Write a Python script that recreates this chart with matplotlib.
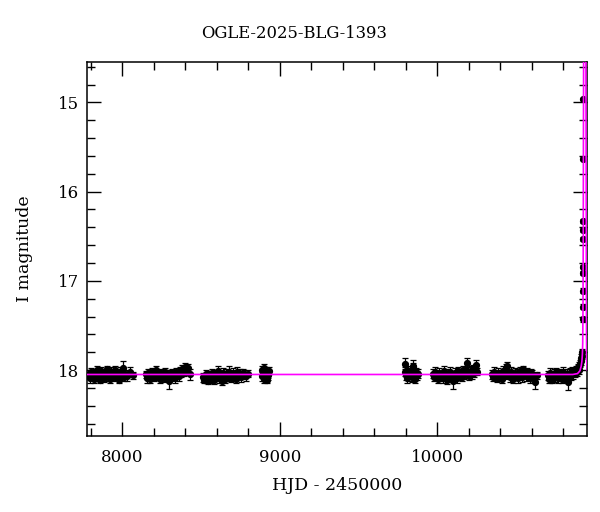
import matplotlib
matplotlib.use("Agg")
import matplotlib.pyplot as plt
from matplotlib.ticker import MultipleLocator

plt.rcParams['font.family'] = ['DejaVu Serif']

# photometry, season by season (HJD-2450000, I mag, error)
t1 = [7790, 7797, 7803, 7812, 7818, 7825, 7833, 7840, 7846, 7851, 7859, 7866, 7874, 7880, 7887, 7893, 7901, 7908,
      7914, 7922, 7929, 7935, 7943, 7950, 7957, 7964, 7970, 7978, 7985, 7992, 8002, 8008, 8016, 8031, 8050, 8066]
m1 = [18.04, 18.09, 18.02, 18.06, 18.10, 18.03, 18.07, 18.00, 18.08, 18.04, 18.11, 18.01, 18.06, 18.03, 18.09, 18.05, 17.99, 18.07,
      18.03, 18.10, 18.02, 18.06, 18.08, 18.04, 18.00, 18.07, 18.05, 18.11, 18.02, 18.06, 17.98, 18.08, 18.04, 18.07, 18.02, 18.06]
e1 = [0.04, 0.05, 0.04, 0.04, 0.05, 0.04, 0.05, 0.04, 0.04, 0.05, 0.04, 0.04, 0.05, 0.04, 0.04, 0.05, 0.04, 0.05,
      0.04, 0.04, 0.05, 0.04, 0.04, 0.05, 0.04, 0.04, 0.06, 0.04, 0.05, 0.04, 0.08, 0.04, 0.04, 0.05, 0.05, 0.04]

t2 = [8148, 8155, 8163, 8170, 8178, 8186, 8193, 8201, 8209, 8216, 8224, 8232, 8240, 8247, 8255, 8262, 8270, 8278,
      8286, 8298, 8303, 8309, 8317, 8325, 8333, 8341, 8349, 8357, 8365, 8373, 8381, 8390, 8398, 8407, 8418, 8432]
m2 = [18.05, 18.09, 18.03, 18.07, 18.10, 18.02, 18.06, 18.08, 18.04, 18.00, 18.07, 18.05, 18.10, 18.03, 18.06, 18.09, 18.02, 18.05,
      18.08, 18.12, 18.04, 18.07, 18.03, 18.06, 18.09, 18.02, 18.05, 18.07, 18.01, 18.04, 17.99, 18.03, 17.97, 18.02, 17.98, 18.05]
e2 = [0.04, 0.05, 0.04, 0.05, 0.04, 0.04, 0.05, 0.04, 0.04, 0.05, 0.04, 0.05, 0.04, 0.04, 0.05, 0.04, 0.04, 0.05,
      0.04, 0.09, 0.04, 0.05, 0.04, 0.04, 0.05, 0.04, 0.04, 0.05, 0.04, 0.04, 0.05, 0.04, 0.05, 0.04, 0.05, 0.06]

t3 = [8515, 8522, 8530, 8537, 8545, 8553, 8560, 8568, 8576, 8583, 8591, 8599, 8606, 8614, 8622, 8630, 8637, 8645,
      8653, 8661, 8668, 8676, 8684, 8692, 8700, 8708, 8716, 8724, 8731, 8739, 8747, 8756, 8765, 8775, 8786, 8798]
m3 = [18.08, 18.11, 18.05, 18.09, 18.12, 18.06, 18.10, 18.03, 18.08, 18.11, 18.04, 18.07, 18.01, 18.09, 18.05, 18.12, 18.03, 18.07,
      18.10, 18.04, 18.08, 18.02, 18.06, 18.09, 18.03, 18.07, 18.05, 18.10, 18.02, 18.06, 18.04, 18.08, 18.03, 18.05, 18.07, 18.04]
e3 = [0.05, 0.04, 0.05, 0.05, 0.04, 0.05, 0.05, 0.04, 0.05, 0.05, 0.04, 0.05, 0.06, 0.05, 0.04, 0.05, 0.05, 0.04,
      0.05, 0.05, 0.04, 0.06, 0.05, 0.04, 0.05, 0.05, 0.04, 0.05, 0.05, 0.04, 0.05, 0.05, 0.04, 0.05, 0.05, 0.04]

t4 = [8886, 8890, 8894, 8898, 8902, 8906, 8910, 8914, 8918, 8922, 8926, 8930]
m4 = [18.00, 18.07, 18.03, 18.10, 17.98, 18.05, 18.08, 18.02, 18.11, 18.04, 18.06, 18.01]
e4 = [0.05, 0.05, 0.04, 0.05, 0.05, 0.04, 0.05, 0.05, 0.04, 0.05, 0.05, 0.04]

t5 = [9792, 9796, 9800, 9805, 9810, 9815, 9822, 9830, 9838, 9843, 9848, 9853, 9858, 9864, 9870, 9876]
m5 = [18.02, 17.93, 18.06, 18.09, 18.00, 18.04, 18.07, 18.03, 18.08, 17.97, 17.95, 18.05, 18.10, 18.02, 18.06, 18.04]
e5 = [0.05, 0.06, 0.05, 0.05, 0.04, 0.05, 0.05, 0.04, 0.05, 0.05, 0.06, 0.05, 0.05, 0.04, 0.05, 0.05]

t6 = [9972, 9979, 9987, 9995, 10003, 10011, 10019, 10027, 10035, 10043, 10051, 10059, 10067, 10075, 10083, 10091, 10099, 10107,
      10115, 10123, 10131, 10139, 10147, 10155, 10163, 10171, 10179, 10187, 10195, 10203, 10211, 10219, 10227, 10235, 10243, 10250]
m6 = [18.04, 18.08, 18.02, 18.06, 18.10, 18.03, 18.07, 18.05, 18.09, 18.01, 18.06, 18.11, 18.04, 18.08, 18.02, 18.07, 18.12, 18.05,
      18.03, 18.09, 18.01, 18.06, 18.04, 18.08, 18.00, 18.05, 18.02, 17.92, 18.04, 18.07, 18.01, 18.05, 17.98, 18.03, 17.94, 18.02]
e6 = [0.05, 0.04, 0.05, 0.05, 0.04, 0.05, 0.05, 0.04, 0.05, 0.05, 0.04, 0.05, 0.05, 0.04, 0.05, 0.05, 0.09, 0.04,
      0.05, 0.05, 0.04, 0.05, 0.05, 0.04, 0.05, 0.05, 0.04, 0.05, 0.05, 0.04, 0.05, 0.05, 0.04, 0.05, 0.05, 0.04]

t7 = [10347, 10355, 10363, 10371, 10379, 10387, 10395, 10403, 10411, 10419, 10427, 10435, 10443, 10451, 10459, 10467, 10475, 10483,
      10491, 10499, 10507, 10515, 10523, 10531, 10539, 10547, 10555, 10563, 10571, 10579, 10587, 10595, 10603, 10611, 10620, 10632]
m7 = [18.05, 18.08, 18.02, 18.06, 18.09, 18.03, 18.07, 18.04, 18.10, 18.01, 18.06, 17.98, 17.96, 18.05, 18.08, 18.02, 18.06, 18.10,
      18.03, 18.07, 18.04, 18.09, 18.01, 18.05, 18.08, 17.99, 18.04, 18.07, 18.02, 18.06, 18.09, 18.03, 18.05, 18.08, 18.13, 18.06]
e7 = [0.05, 0.04, 0.05, 0.05, 0.04, 0.05, 0.05, 0.04, 0.05, 0.05, 0.04, 0.05, 0.05, 0.04, 0.05, 0.05, 0.04, 0.05,
      0.05, 0.04, 0.05, 0.05, 0.04, 0.05, 0.05, 0.04, 0.05, 0.05, 0.04, 0.05, 0.05, 0.04, 0.05, 0.05, 0.08, 0.04]

t8 = [10703, 10710, 10717, 10724, 10731, 10738, 10745, 10752, 10759, 10766, 10773, 10780, 10787, 10794, 10801, 10808, 10815, 10822,
      10829, 10836, 10843, 10850, 10857, 10864, 10871, 10878, 10885, 10891, 10897, 10902, 10907, 10911, 10915, 10918, 10921]
m8 = [18.06, 18.10, 18.03, 18.07, 18.11, 18.04, 18.08, 18.02, 18.06, 18.09, 18.03, 18.07, 18.05, 18.10, 18.02, 18.06, 18.09, 18.04,
      18.13, 18.07, 18.03, 18.06, 18.01, 18.05, 18.03, 17.99, 18.02, 17.97, 18.00, 17.95, 17.93, 17.90, 17.86, 17.84, 17.80]
e8 = [0.05, 0.04, 0.05, 0.05, 0.04, 0.05, 0.05, 0.04, 0.05, 0.05, 0.04, 0.05, 0.05, 0.04, 0.05, 0.05, 0.04, 0.05,
      0.09, 0.04, 0.05, 0.05, 0.04, 0.05, 0.05, 0.04, 0.05, 0.04, 0.04, 0.04, 0.04, 0.04, 0.04, 0.04, 0.04]

# the rise of the event
t_ev = [10924.0, 10924.5, 10925.0, 10925.5, 10926.0, 10926.3, 10926.6, 10927.0, 10927.5, 10928.0]
m_ev = [17.43, 17.29, 17.11, 16.91, 16.84, 16.53, 16.43, 16.33, 15.63, 14.96]
e_ev = [0.03, 0.03, 0.03, 0.02, 0.02, 0.02, 0.02, 0.02, 0.02, 0.01]

# model curve
t_mod = [7778, 10860, 10890, 10905, 10913, 10918, 10921, 10923, 10924.5, 10925.5, 10926.5, 10927.5, 10929,
         10936, 10943, 10945, 10946, 10947, 10948.5, 10952]
m_mod = [18.05, 18.05, 18.04, 18.01, 17.96, 17.90, 17.82, 17.70, 17.40, 17.00, 16.50, 15.50, 14.30,
         13.00, 14.30, 16.00, 17.00, 17.60, 17.90, 18.00]

fig = plt.figure(figsize=(6, 5.12), dpi=100)
ax = fig.add_axes([0.1455, 0.1484, 0.8333, 0.7299])

seasons = [(t1, m1, e1), (t2, m2, e2), (t3, m3, e3), (t4, m4, e4), (t5, m5, e5),
           (t6, m6, e6), (t7, m7, e7), (t8, m8, e8), (t_ev, m_ev, e_ev)]
for t, m, e in seasons:
    ax.errorbar(t, m, yerr=e, fmt='o', color='black', ms=4.2, elinewidth=0.9,
                capsize=2.2, capthick=0.9, zorder=2)

ax.plot(t_mod, m_mod, color='magenta', lw=1.2, zorder=3)

ax.set_xlim(7778, 10952)
ax.set_ylim(18.74, 14.55)

ax.xaxis.set_major_locator(MultipleLocator(1000))
ax.xaxis.set_minor_locator(MultipleLocator(200))
ax.yaxis.set_major_locator(MultipleLocator(1))
ax.yaxis.set_minor_locator(MultipleLocator(0.2))
ax.tick_params(which='both', direction='in', top=True, right=True, labelsize=12, width=1)
ax.tick_params(which='major', length=10)
ax.tick_params(which='minor', length=5.5)
ax.tick_params(axis='x', pad=9)
ax.tick_params(axis='y', pad=6)
for s in ax.spines.values():
    s.set_linewidth(1.1)

ax.set_xlabel("HJD - 2450000", fontsize=12.5, labelpad=8)
ax.set_ylabel("I magnitude", fontsize=12.5, labelpad=18)
fig.text(0.49, 1 - 33 / 512, "OGLE-2025-BLG-1393", fontsize=11.8, ha='center', va='center')

fig.savefig("out.png", dpi=100)
